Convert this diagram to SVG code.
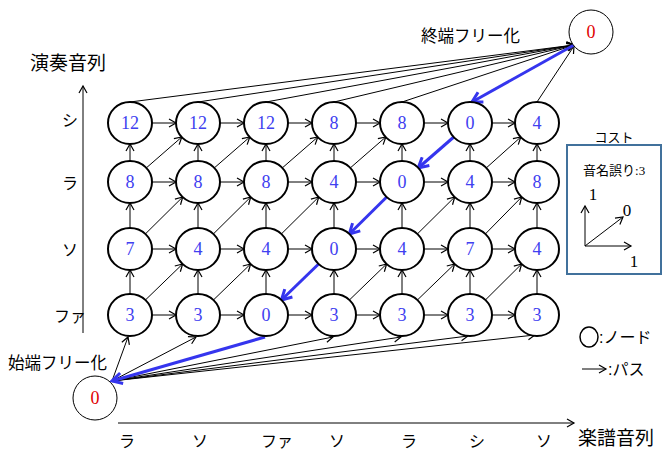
<svg xmlns="http://www.w3.org/2000/svg" width="664" height="452" viewBox="0 0 664 452">
<defs>
<marker id="ah" markerUnits="userSpaceOnUse" markerWidth="10" markerHeight="10" viewBox="0 0 10 10" refX="8" refY="5" orient="auto">
<path d="M1,1 L8,5 L1,9" fill="none" stroke="#000" stroke-width="1.2"/>
</marker>
<marker id="bh" markerUnits="userSpaceOnUse" markerWidth="14" markerHeight="14" viewBox="0 0 14 14" refX="12" refY="7" orient="auto">
<path d="M2,1.5 L12,7 L2,12.5" fill="none" stroke="#3535ee" stroke-width="3" stroke-linejoin="miter"/>
</marker>
</defs>
<style>
.e{stroke:#000;stroke-width:1;fill:none;marker-end:url(#ah)}
.b{stroke:#3535ee;stroke-width:3;fill:none;marker-end:url(#bh)}
.n ellipse{fill:#fff;stroke:#000;stroke-width:2}
.t circle{fill:#fff;stroke:#000;stroke-width:1}
.c{font-family:"Liberation Serif","DejaVu Serif",serif;font-size:18px;fill:#4040f0;text-anchor:middle}
.r{font-family:"Liberation Serif","DejaVu Serif",serif;font-size:18px;fill:#e00000;text-anchor:middle}
.j{font-family:"Liberation Sans","Noto Sans CJK JP",sans-serif;fill:#000}
.s{font-family:"Liberation Serif","DejaVu Serif",serif;fill:#000}
</style>

<g id="axes">
<line x1="83" y1="333" x2="83" y2="86" class="e" stroke-width="1.5"/>
<line x1="118" y1="423" x2="574" y2="423" class="e" stroke-width="1.3"/>
</g>

<g id="connectors">
<!-- horizontal -->
<line class="e" x1="152" y1="123" x2="176" y2="123"/><line class="e" x1="220" y1="123" x2="244" y2="123"/><line class="e" x1="288" y1="123" x2="312" y2="123"/><line class="e" x1="356" y1="123" x2="380" y2="123"/><line class="e" x1="424" y1="123" x2="448" y2="123"/><line class="e" x1="492" y1="123" x2="515" y2="123"/>
<line class="e" x1="152" y1="182" x2="176" y2="182"/><line class="e" x1="220" y1="182" x2="244" y2="182"/><line class="e" x1="288" y1="182" x2="312" y2="182"/><line class="e" x1="356" y1="182" x2="380" y2="182"/><line class="e" x1="424" y1="182" x2="448" y2="182"/><line class="e" x1="492" y1="182" x2="515" y2="182"/>
<line class="e" x1="152" y1="249" x2="176" y2="249"/><line class="e" x1="220" y1="249" x2="244" y2="249"/><line class="e" x1="288" y1="249" x2="312" y2="249"/><line class="e" x1="356" y1="249" x2="380" y2="249"/><line class="e" x1="424" y1="249" x2="448" y2="249"/><line class="e" x1="492" y1="249" x2="515" y2="249"/>
<line class="e" x1="152" y1="315" x2="176" y2="315"/><line class="e" x1="220" y1="315" x2="244" y2="315"/><line class="e" x1="288" y1="315" x2="312" y2="315"/><line class="e" x1="356" y1="315" x2="380" y2="315"/><line class="e" x1="424" y1="315" x2="448" y2="315"/><line class="e" x1="492" y1="315" x2="515" y2="315"/>
<!-- vertical -->
<line class="e" x1="130" y1="294" x2="130" y2="270"/><line class="e" x1="130" y1="228" x2="130" y2="203"/><line class="e" x1="130" y1="161" x2="130" y2="144"/>
<line class="e" x1="198" y1="294" x2="198" y2="270"/><line class="e" x1="198" y1="228" x2="198" y2="203"/><line class="e" x1="198" y1="161" x2="198" y2="144"/>
<line class="e" x1="266" y1="294" x2="266" y2="270"/><line class="e" x1="266" y1="228" x2="266" y2="203"/><line class="e" x1="266" y1="161" x2="266" y2="144"/>
<line class="e" x1="334" y1="294" x2="334" y2="270"/><line class="e" x1="334" y1="228" x2="334" y2="203"/><line class="e" x1="334" y1="161" x2="334" y2="144"/>
<line class="e" x1="402" y1="294" x2="402" y2="270"/><line class="e" x1="402" y1="228" x2="402" y2="203"/><line class="e" x1="402" y1="161" x2="402" y2="144"/>
<line class="e" x1="470" y1="294" x2="470" y2="270"/><line class="e" x1="470" y1="228" x2="470" y2="203"/><line class="e" x1="470" y1="161" x2="470" y2="144"/>
<line class="e" x1="537" y1="294" x2="537" y2="270"/><line class="e" x1="537" y1="228" x2="537" y2="203"/><line class="e" x1="537" y1="161" x2="537" y2="144"/>
<!-- diagonals fa->so -->
<line class="e" x1="145.4" y1="300" x2="182.6" y2="264"/><line class="e" x1="213.4" y1="300" x2="250.6" y2="264"/><line class="e" x1="349.4" y1="300" x2="386.6" y2="264"/><line class="e" x1="417.4" y1="300" x2="454.6" y2="264"/><line class="e" x1="485.4" y1="300" x2="521.6" y2="264"/>
<!-- so->ra -->
<line class="e" x1="145.3" y1="234" x2="182.7" y2="197"/><line class="e" x1="213.3" y1="234" x2="250.7" y2="197"/><line class="e" x1="281.3" y1="234" x2="318.7" y2="197"/><line class="e" x1="417.3" y1="234" x2="454.7" y2="197"/><line class="e" x1="485.3" y1="234" x2="521.7" y2="197"/>
<!-- ra->si -->
<line class="e" x1="146.2" y1="168" x2="181.8" y2="137"/><line class="e" x1="214.2" y1="168" x2="249.8" y2="137"/><line class="e" x1="282.2" y1="168" x2="317.8" y2="137"/><line class="e" x1="350.2" y1="168" x2="385.8" y2="137"/><line class="e" x1="486.2" y1="168" x2="520.8" y2="137"/>
<!-- start node -->
<line class="e" x1="112" y1="381" x2="128" y2="337"/><line class="e" x1="112" y1="381" x2="196" y2="337"/><line class="e" x1="112" y1="381" x2="333" y2="337"/><line class="e" x1="112" y1="381" x2="401" y2="337"/><line class="e" x1="112" y1="381" x2="468" y2="336"/><line class="e" x1="112" y1="381" x2="535" y2="335"/>
<!-- end node -->
<line class="e" x1="130" y1="102" x2="574" y2="45"/><line class="e" x1="198" y1="102" x2="574" y2="45"/><line class="e" x1="266" y1="102" x2="574" y2="45"/><line class="e" x1="334" y1="102" x2="574" y2="45"/><line class="e" x1="402" y1="102" x2="574" y2="45"/><line class="e" x1="537" y1="102" x2="574" y2="46"/>
<!-- blue backtrace -->
<line class="b" x1="574" y1="45" x2="472" y2="102"/>
<line class="b" x1="453.8" y1="137" x2="418.2" y2="168"/>
<line class="b" x1="386.7" y1="197" x2="349.3" y2="234"/>
<line class="b" x1="318.6" y1="264" x2="281.4" y2="300"/>
<line class="b" x1="265" y1="337" x2="112" y2="381"/>
</g>

<g id="n-si1" class="n"><ellipse cx="130" cy="123" rx="22" ry="21"/><text class="c" x="130" y="129">12</text></g>
<g id="n-si2" class="n"><ellipse cx="198" cy="123" rx="22" ry="21"/><text class="c" x="198" y="129">12</text></g>
<g id="n-si3" class="n"><ellipse cx="266" cy="123" rx="22" ry="21"/><text class="c" x="266" y="129">12</text></g>
<g id="n-si4" class="n"><ellipse cx="334" cy="123" rx="22" ry="21"/><text class="c" x="334" y="129">8</text></g>
<g id="n-si5" class="n"><ellipse cx="402" cy="123" rx="22" ry="21"/><text class="c" x="402" y="129">8</text></g>
<g id="n-si6" class="n"><ellipse cx="470" cy="123" rx="22" ry="21"/><text class="c" x="470" y="129">0</text></g>
<g id="n-si7" class="n"><ellipse cx="537" cy="123" rx="22" ry="21"/><text class="c" x="537" y="129">4</text></g>

<g id="n-ra1" class="n"><ellipse cx="130" cy="182" rx="22" ry="21"/><text class="c" x="130" y="188">8</text></g>
<g id="n-ra2" class="n"><ellipse cx="198" cy="182" rx="22" ry="21"/><text class="c" x="198" y="188">8</text></g>
<g id="n-ra3" class="n"><ellipse cx="266" cy="182" rx="22" ry="21"/><text class="c" x="266" y="188">8</text></g>
<g id="n-ra4" class="n"><ellipse cx="334" cy="182" rx="22" ry="21"/><text class="c" x="334" y="188">4</text></g>
<g id="n-ra5" class="n"><ellipse cx="402" cy="182" rx="22" ry="21"/><text class="c" x="402" y="188">0</text></g>
<g id="n-ra6" class="n"><ellipse cx="470" cy="182" rx="22" ry="21"/><text class="c" x="470" y="188">4</text></g>
<g id="n-ra7" class="n"><ellipse cx="537" cy="182" rx="22" ry="21"/><text class="c" x="537" y="188">8</text></g>

<g id="n-so1" class="n"><ellipse cx="130" cy="249" rx="22" ry="21"/><text class="c" x="130" y="255">7</text></g>
<g id="n-so2" class="n"><ellipse cx="198" cy="249" rx="22" ry="21"/><text class="c" x="198" y="255">4</text></g>
<g id="n-so3" class="n"><ellipse cx="266" cy="249" rx="22" ry="21"/><text class="c" x="266" y="255">4</text></g>
<g id="n-so4" class="n"><ellipse cx="334" cy="249" rx="22" ry="21"/><text class="c" x="334" y="255">0</text></g>
<g id="n-so5" class="n"><ellipse cx="402" cy="249" rx="22" ry="21"/><text class="c" x="402" y="255">4</text></g>
<g id="n-so6" class="n"><ellipse cx="470" cy="249" rx="22" ry="21"/><text class="c" x="470" y="255">7</text></g>
<g id="n-so7" class="n"><ellipse cx="537" cy="249" rx="22" ry="21"/><text class="c" x="537" y="255">4</text></g>

<g id="n-fa1" class="n"><ellipse cx="130" cy="315" rx="22" ry="21"/><text class="c" x="130" y="321">3</text></g>
<g id="n-fa2" class="n"><ellipse cx="198" cy="315" rx="22" ry="21"/><text class="c" x="198" y="321">3</text></g>
<g id="n-fa3" class="n"><ellipse cx="266" cy="315" rx="22" ry="21"/><text class="c" x="266" y="321">0</text></g>
<g id="n-fa4" class="n"><ellipse cx="334" cy="315" rx="22" ry="21"/><text class="c" x="334" y="321">3</text></g>
<g id="n-fa5" class="n"><ellipse cx="402" cy="315" rx="22" ry="21"/><text class="c" x="402" y="321">3</text></g>
<g id="n-fa6" class="n"><ellipse cx="470" cy="315" rx="22" ry="21"/><text class="c" x="470" y="321">3</text></g>
<g id="n-fa7" class="n"><ellipse cx="537" cy="315" rx="22" ry="21"/><text class="c" x="537" y="321">3</text></g>

<g id="n-start" class="t"><circle cx="95" cy="398" r="22"/><text class="r" x="95" y="404">0</text></g>
<g id="n-end" class="t"><circle cx="591" cy="32" r="22"/><text class="r" x="591" y="38">0</text></g>

<g id="labels">
<text class="j" x="30" y="70" font-size="19">演奏音列</text>
<text class="j" x="421" y="42" font-size="16.5">終端フリー化</text>
<text class="j" x="8" y="369" font-size="16.5">始端フリー化</text>
<text class="j" x="578" y="445" font-size="19">楽譜音列</text>
<text class="j" x="62" y="126" font-size="16">シ</text>
<text class="j" x="62" y="189" font-size="16">ラ</text>
<text class="j" x="62" y="256" font-size="16">ソ</text>
<text class="j" x="54" y="322" font-size="16">ファ</text>
<text class="j" x="119" y="447" font-size="16">ラ</text>
<text class="j" x="192" y="447" font-size="16">ソ</text>
<text class="j" x="261" y="447" font-size="16">ファ</text>
<text class="j" x="329" y="447" font-size="16">ソ</text>
<text class="j" x="401" y="447" font-size="16">ラ</text>
<text class="j" x="469" y="447" font-size="16">シ</text>
<text class="j" x="536" y="447" font-size="16">ソ</text>
</g>

<g id="legend-cost">
<text class="j" x="614" y="142" font-size="13" text-anchor="middle">コスト</text>
<rect x="567" y="145" width="94" height="129" fill="none" stroke="#41719c" stroke-width="2"/>
<text class="j" x="583" y="175" font-size="13">音名誤り<tspan class="s">:3</tspan></text>
<line class="e" x1="585" y1="246" x2="585" y2="206"/>
<line class="e" x1="585" y1="246" x2="631" y2="246"/>
<line class="e" x1="585" y1="246" x2="623" y2="217"/>
<text class="s" x="593" y="200" font-size="17" text-anchor="middle">1</text>
<text class="s" x="627" y="216" font-size="17" text-anchor="middle">0</text>
<text class="s" x="634" y="267" font-size="17" text-anchor="middle">1</text>
</g>

<g id="legend-node">
<ellipse cx="589" cy="337" rx="9" ry="10" fill="#fff" stroke="#000" stroke-width="1.5"/>
<text class="j" x="599" y="343" font-size="16">:ノード</text>
</g>
<g id="legend-path">
<line class="e" x1="582" y1="369" x2="606" y2="369"/>
<text class="j" x="608" y="375" font-size="16">:パス</text>
</g>
</svg>
